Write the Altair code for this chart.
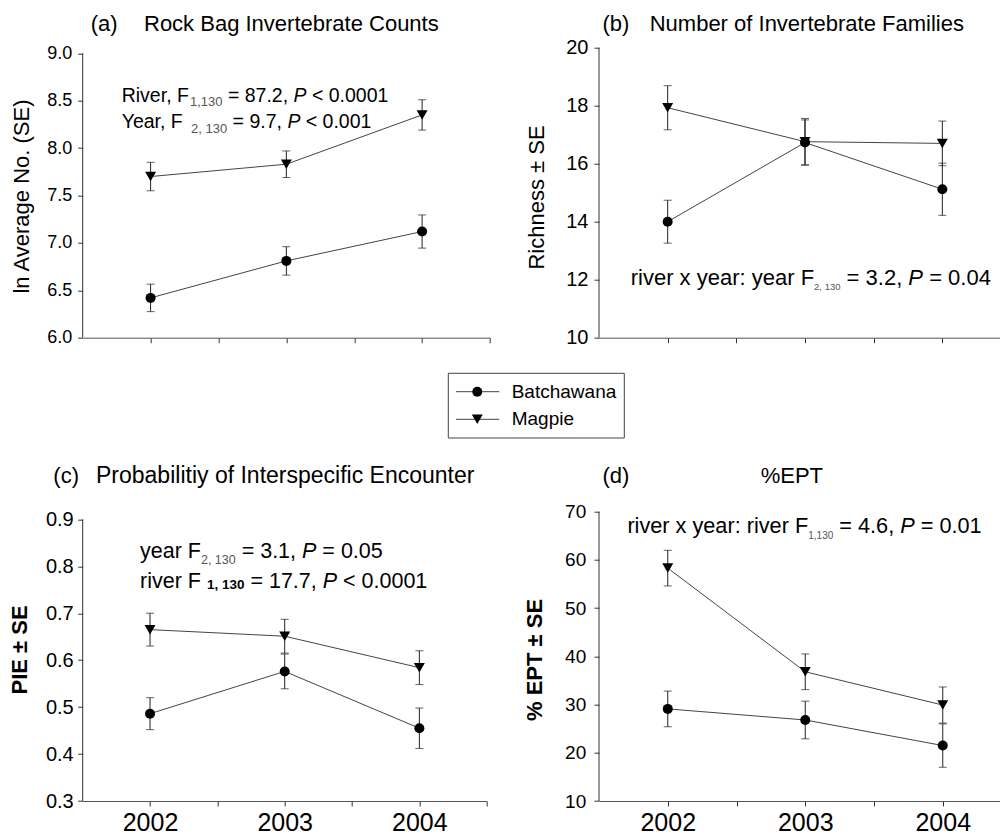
import altair as alt
import pandas as pd

# ---------------------------------------------------------------- data
YEARS = [2002, 2003, 2004]
RIVERS = ["Batchawana", "Magpie"]
SHAPES = ["circle", "triangle-down"]
MARKER_SIZES = [100, 120]

# (a) ln average invertebrate count per rock bag
count_batchawana = [6.42, 6.81, 7.12]
count_batchawana_se = [0.145, 0.15, 0.175]
count_magpie = [7.70, 7.83, 8.35]
count_magpie_se = [0.15, 0.14, 0.16]

# (b) family richness
rich_batchawana = [14.0, 16.73, 15.12]
rich_batchawana_se = [0.74, 0.78, 0.90]
rich_magpie = [17.93, 16.76, 16.70]
rich_magpie_se = [0.76, 0.80, 0.77]

# (c) probability of interspecific encounter
pie_batchawana = [0.486, 0.576, 0.455]
pie_batchawana_se = [0.034, 0.037, 0.043]
pie_magpie = [0.665, 0.651, 0.584]
pie_magpie_se = [0.035, 0.036, 0.036]

# (d) percent EPT
ept_batchawana = [29.1, 26.8, 21.5]
ept_batchawana_se = [3.7, 3.9, 4.5]
ept_magpie = [58.3, 36.8, 29.9]
ept_magpie_se = [3.7, 3.7, 3.75]

# axis ticks
X_TICKS = [2002, 2002.5, 2003, 2003.5, 2004, 2004.5]
A_TICKS = [6.0, 6.5, 7.0, 7.5, 8.0, 8.5, 9.0]
B_TICKS = [10, 12, 14, 16, 18, 20]
C_TICKS = [0.3, 0.4, 0.5, 0.6, 0.7, 0.8, 0.9]
D_TICKS = [10, 20, 30, 40, 50, 60, 70]

FONT = "Liberation Sans"

# Arial / Liberation Sans advance widths (per 1000 em) used to chain text runs
ADV = {' ': 278, ',': 278, '.': 278, ':': 278, '<': 584, '=': 584, '(': 333, ')': 333,
       '%': 889, '\u00b1': 584,
       'A': 667, 'B': 667, 'C': 722, 'E': 667, 'F': 611, 'I': 278, 'M': 833, 'N': 722,
       'P': 667, 'R': 722, 'S': 667, 'T': 611, 'Y': 667,
       'a': 556, 'b': 556, 'c': 500, 'e': 556, 'f': 278, 'g': 556, 'h': 556, 'i': 222,
       'l': 222, 'm': 833, 'n': 556, 'o': 556, 'p': 556, 'r': 333, 's': 500, 't': 278,
       'u': 556, 'v': 500, 'w': 722, 'x': 500, 'y': 500}


def text_width(s, size):
    return sum(ADV.get(ch, 556) for ch in s) * size / 1000.0


def label(t, x, y, size, align="left", baseline="alphabetic", color="black", **kw):
    return alt.Chart(pd.DataFrame({"t": [t]})).mark_text(
        align=align, baseline=baseline, fontSize=size, font=FONT, color=color, **kw
    ).encode(text="t:N", x=alt.value(x), y=alt.value(y))


def rich_line(x0, y, parts, size, sub_size, sub_dy, sub_color="#555"):
    """Lay out a statistics line made of normal, italic and subscript runs."""
    layers = []
    x = x0
    for txt, kind in parts:
        is_sub = kind in ("sub", "subb")
        fs = sub_size if is_sub else size
        lead = len(txt) - len(txt.lstrip())
        xd = x + text_width(" " * lead, fs)
        kw = {}
        if kind == "it":
            kw["fontStyle"] = "italic"
        if kind == "subb":
            kw["fontWeight"] = "bold"
        layers.append(label(txt.strip(), xd, y + (sub_dy if is_sub else 0), fs,
                            color=sub_color if is_sub else "black", **kw))
        x += text_width(txt, fs)
    return layers


def series_frame(b, b_se, m, m_se):
    rows = []
    for river, means, ses in ((RIVERS[0], b, b_se), (RIVERS[1], m, m_se)):
        for yr, mu, se in zip(YEARS, means, ses):
            rows.append({"river": river, "year": yr, "mean": mu, "lo": mu - se, "hi": mu + se})
    return pd.DataFrame(rows)


def panel(df, y_dom, y_span, y_ticks, y_fmt, y_label_size, y_label_pad,
          width, height, x_labels, extra):
    xs = alt.Scale(domain=[2001.5, 2004.5], nice=False, zero=False)
    ys = alt.Scale(domain=y_dom, nice=False, zero=False)
    xa = alt.Axis(values=X_TICKS, labels=x_labels, grid=False, title=None,
                  labelExpr="datum.value % 1 == 0 ? format(datum.value, 'd') : ''",
                  labelFontSize=25, labelPadding=4, labelFlush=False, labelOverlap=False,
                  labelColor="black", labelFont=FONT,
                  tickSize=5, tickColor="#333", tickWidth=1, domainColor="#555", domainWidth=1)
    ya = alt.Axis(values=y_ticks, format=y_fmt, grid=False, title=None, domain=False,
                  labelFontSize=y_label_size, labelPadding=y_label_pad, labelFlush=False,
                  labelOverlap=False, labelColor="black", labelFont=FONT,
                  tickSize=5, tickColor="#333", tickWidth=1)

    def X(f):
        return alt.X(f, type="quantitative", scale=xs, axis=xa, title=None)

    def Y(f):
        return alt.Y(f, type="quantitative", scale=ys, axis=ya, title=None)

    base = alt.Chart(df)
    lines = base.mark_line(color="#444", strokeWidth=1).encode(
        x=X("year"), y=Y("mean"), detail="river:N")
    bars = base.mark_rule(color="#222", strokeWidth=1).encode(
        x=X("year"), y=Y("lo"), y2="hi")
    caps = base.transform_fold(["lo", "hi"], as_=["end", "v"]).mark_tick(
        orient="horizontal", size=8, thickness=1, color="#222").encode(x=X("year"), y=Y("v"))
    pts = base.mark_point(filled=True, opacity=1, color="black").encode(
        x=X("year"), y=Y("mean"),
        shape=alt.Shape("river:N", scale=alt.Scale(domain=RIVERS, range=SHAPES), legend=None),
        size=alt.Size("river:N", scale=alt.Scale(domain=RIVERS, range=MARKER_SIZES), legend=None))
    y_line = alt.Chart(pd.DataFrame({"lo": [y_span[0]], "hi": [y_span[1]]})).mark_rule(
        color="#333", strokeWidth=1).encode(x=alt.value(0), y=Y("lo"), y2="hi")

    return alt.layer(y_line, lines, bars, caps, pts, *extra).properties(width=width, height=height)


# ---------------------------------------------------------------- panel (a)
a_text = [
    label("(a)", 8, -16.7, 22),
    label("Rock Bag Invertebrate Counts", 61.3, -16.7, 22),
    label("ln Average No. (SE)", -60.7, 148.8, 22, align="center", baseline="middle", angle=270),
]
a_text += rich_line(39, 54, [("River, F", "m"), ("1,130", "sub"), (" = 87.2, ", "m"),
                             ("P", "it"), (" < 0.0001", "m")], 19.5, 13, 4.5)
a_text += rich_line(39, 80.6, [("Year, F ", "m"), ("2, 130", "sub"), (" = 9.7, ", "m"),
                               ("P", "it"), (" < 0.001", "m")], 19.5, 13, 5)

# legend, drawn below panel (a)
legend_layers = [
    alt.Chart(pd.DataFrame({"k": [0]})).mark_rect(fill="white", stroke="#444", strokeWidth=1).encode(
        x=alt.value(365.6), x2=alt.value(541.6), y=alt.value(325.6), y2=alt.value(390.3))
]
for i, river in enumerate(RIVERS):
    ry = 344 + 27.6 * i
    row = alt.Chart(pd.DataFrame({"river": [river]}))
    legend_layers.append(row.mark_rule(color="#444", strokeWidth=1).encode(
        x=alt.value(373.3), x2=alt.value(416.6), y=alt.value(ry)))
    legend_layers.append(row.mark_point(filled=True, opacity=1, color="black",
                                        shape=SHAPES[i], size=MARKER_SIZES[i]).encode(
        x=alt.value(394.6), y=alt.value(ry)))
    legend_layers.append(row.mark_text(align="left", baseline="middle", fontSize=19,
                                       font=FONT, color="black").encode(
        text="river:N", x=alt.value(429), y=alt.value(ry)))

pa = panel(series_frame(count_batchawana, count_batchawana_se, count_magpie, count_magpie_se),
           [6.0, 9.059], [6.0, 9.0], A_TICKS, ".1f", 18, 6, 407.3, 290, False,
           a_text + legend_layers)

# ---------------------------------------------------------------- panel (b)
b_text = [
    label("(b)", 3.4, -16.7, 22),
    label("Number of Invertebrate Families", 50.7, -16.7, 22),
    label("Richness \u00b1 SE", -61.8, 149.8, 22, align="center", baseline="middle", angle=270),
]
b_text += rich_line(31.7, 237.3, [("river x year: year F", "m"), ("2, 130", "sub"),
                                  (" = 3.2, ", "m"), ("P", "it"), (" = 0.04", "m")], 22, 9.5, 5)

pb = panel(series_frame(rich_batchawana, rich_batchawana_se, rich_magpie, rich_magpie_se),
           [10, 20], [10, 20], B_TICKS, "d", 20, 6, 412, 290, False, b_text)

# ---------------------------------------------------------------- panel (c)
c_text = [
    label("(c)", -29.4, -28.4, 22),
    label("Probabilitiy of Interspecific Encounter", 13.3, -28.4, 23),
    label("PIE \u00b1 SE", -62.2, 138.3, 22, align="center", baseline="middle", angle=270,
          fontWeight="bold"),
]
c_text += rich_line(57.3, 46.6, [("year F", "m"), ("2, 130", "sub"), (" = 3.1, ", "m"),
                                 ("P", "it"), (" = 0.05", "m")], 21.5, 12.5, 5.7)
c_text += rich_line(57.3, 76, [("river F ", "m"), ("1, 130", "subb"), (" = 17.7, ", "m"),
                               ("P", "it"), (" < 0.0001", "m")], 21.5, 13.5, 1, sub_color="black")

pc = panel(series_frame(pie_batchawana, pie_batchawana_se, pie_magpie, pie_magpie_se),
           [0.3, 0.9162], [0.3, 0.9], C_TICKS, ".1f", 20, 4.5, 404, 289.3, True, c_text)

# ---------------------------------------------------------------- panel (d)
d_text = [
    label("(d)", 3.4, -29, 22),
    label("%EPT", 161.7, -29, 22),
    label("% EPT \u00b1 SE", -64.3, 148.3, 22, align="center", baseline="middle", angle=270,
          fontWeight="bold"),
]
d_text += rich_line(28.4, 21, [("river x year: river F", "m"), ("1,130", "sub"),
                               (" = 4.6, ", "m"), ("P", "it"), (" = 0.01", "m")], 21.7, 10, 6.6)

pd_ = panel(series_frame(ept_batchawana, ept_batchawana_se, ept_magpie, ept_magpie_se),
            [10, 70], [10, 70], D_TICKS, "d", 19, 8.3, 412.5, 289.3, True, d_text)

# ---------------------------------------------------------------- layout
chart = alt.concat(
    pa, pb, pc, pd_, columns=2, spacing={"row": 174, "column": 108.3}, bounds="flush"
).properties(
    autosize=alt.AutoSizeParams(type="none"),
    padding={"left": 82.7, "top": 47.7, "right": 917.3, "bottom": 788.3},
).configure(font=FONT).configure_view(stroke=None)

chart.save("out.html", embed_options={"renderer": "svg", "actions": False})
